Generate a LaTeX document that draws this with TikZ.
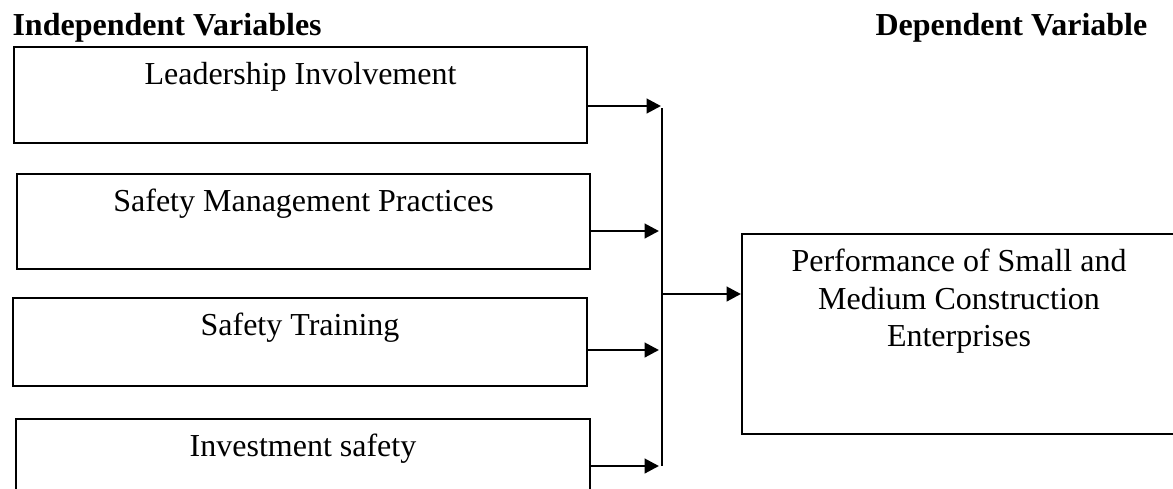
\documentclass[tikz,border=0pt]{standalone}
\usepackage{fontspec}
\setmainfont{Liberation Serif}
\usetikzlibrary{positioning,arrows.meta}

\begin{document}
\begin{tikzpicture}[
				x=0.375pt,y=-0.375pt,
				line cap=butt,line join=miter,
				varbox/.style={draw=black, line width=0.75pt, inner sep=0pt},
				vartext/.style={anchor=base, inner sep=0pt, font=\fontsize{12}{13.9}\selectfont},
				head/.style={anchor=base west, inner sep=0pt, font=\fontsize{12}{13.9}\selectfont\bfseries},
				feed/.style={line width=1.1pt, -{Triangle[length=5.4pt,width=5.4pt]}},
				bus/.style={line width=0.6pt}
				]
				% ---- parameters
				\def\px{0.375pt}
				\def\drop{14.6pt}
				\def\dropthree{42.4pt}% base of a 3-line node sits on its last line
				
				% page
				\useasboundingbox (0,0) rectangle (1173,488);
				
				% headings
				\node[head] (indep) at (12,35) {Independent Variables};
				\node[head] (dep) at (875,35) {Dependent Variable};
				
				% independent variables
				\node[varbox, minimum width=573*\px, minimum height=96*\px] (lead) at (300.5,95) {};
				\node[varbox, minimum width=573*\px, minimum height=95*\px] (mgmt) at (303.5,221.5) {};
				\node[varbox, minimum width=574*\px, minimum height=88*\px] (train) at (300,342) {};
				\node[varbox, minimum width=574*\px, minimum height=95*\px] (invest) at (303,466.5) {};
				
				\node[vartext] (leadtxt) at ([yshift=-\drop]lead.north) {Leadership Involvement};
				\node[vartext] (mgmttxt) at ([yshift=-\drop]mgmt.north) {Safety Management Practices};
				\node[vartext] (traintxt) at ([yshift=-\drop]train.north) {Safety Training};
				\node[vartext] (investtxt) at ([yshift=-\drop]invest.north) {Investment safety};
				
				% dependent variable
				\node[varbox, minimum width=434*\px, minimum height=200*\px] (perf) at (959,334) {};
				\node[vartext, align=center] (perftxt) at ([yshift=-\dropthree]perf.north)
				{Performance of Small and\\Medium Construction\\Enterprises};
				
				% bus
				\coordinate (btop) at (662,108);
				\coordinate (bmid) at (662,294);
				\coordinate (bbot) at (662,466);
				\draw[bus] (btop) -- (bbot);
				
				\coordinate (b1) at (661,106);
				\coordinate (b2) at (659,231);
				\coordinate (b3) at (659,350);
				\coordinate (b4) at (659,466);
				
				% arrows
				\draw[feed] (lead.east |- b1) -- (b1);
				\draw[feed] (mgmt.east |- b2) -- (b2);
				\draw[feed] (train.east |- b3) -- (b3);
				\draw[feed] (invest.east |- b4) -- (b4);
				\draw[feed] (bmid) -- (bmid -| perf.west);
			\end{tikzpicture}
\end{document}
